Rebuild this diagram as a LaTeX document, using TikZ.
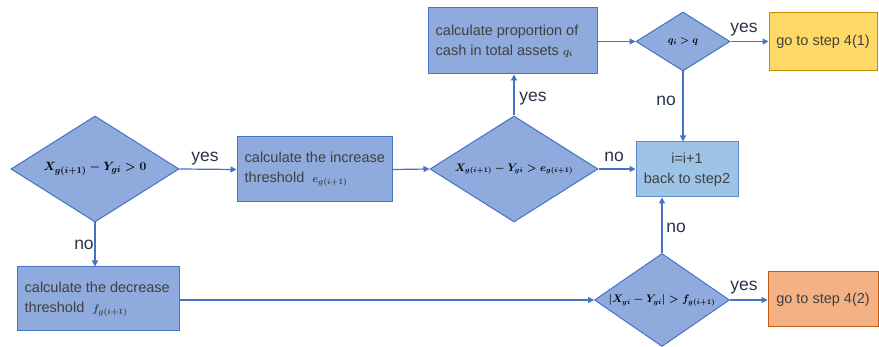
\documentclass[tikz,border=0pt]{standalone}
\usepackage[no-math]{fontspec}
\setmainfont{Liberation Sans}
\usetikzlibrary{shapes.geometric,arrows.meta}
\definecolor{bfill}{HTML}{8FAADC}
\definecolor{bline}{HTML}{4472C4}
\definecolor{lfill}{HTML}{9DC3E6}
\definecolor{lline}{HTML}{5B8BC9}
\definecolor{yfill}{HTML}{FFD966}
\definecolor{yline}{HTML}{BF9000}
\definecolor{ofill}{HTML}{F4B183}
\definecolor{oline}{HTML}{C55A11}
\definecolor{txt}{HTML}{404040}
\definecolor{labc}{HTML}{2B3447}
\begin{document}
\begin{tikzpicture}[x=1pt,y=-1pt,
  box/.style={draw=bline, fill=bfill, line width=1pt, inner sep=0pt, text=txt},
  dia/.style={diamond, draw=bline, fill=bfill, line width=1pt, inner sep=0pt},
  btext/.style={text=txt, font=\fontsize{14.5}{20}\selectfont, align=left, inner sep=0pt},
  mtext/.style={text=black, inner sep=0pt},
  arr/.style={draw=bline, line width=1.2pt, -{Triangle[width=6pt,length=6pt]}},
  lab/.style={text=labc, font=\fontsize{17.5}{18}\selectfont, inner sep=0pt}]
\useasboundingbox[fill=white] (0,0) rectangle (879,347);
% nodes
\node[dia, minimum width=168, minimum height=106] (d1) at (95,169) {};
\node[mtext, font=\boldmath\fontsize{12.5}{15}\selectfont] (t1) at (d1) {$X_{g(i+1)}-Y_{gi}>0$};
\node[box, minimum width=155, minimum height=65] (inc) at (314.5,169.5) {};
\node[btext, anchor=west] (tinc) at ([xshift=8pt]inc.west) {calculate the increase\\threshold\ \ {\boldmath\fontsize{11}{12}\selectfont$e_{g(i+1)}$}};
\node[dia, minimum width=168, minimum height=106] (d2) at (514,169) {};
\node[mtext, font=\boldmath\fontsize{10.5}{13}\selectfont] (t2) at (d2) {$X_{g(i+1)}-Y_{gi}>e_{g(i+1)}$};
\node[box, minimum width=169, minimum height=66] (prop) at (512.5,41) {};
\node[btext, anchor=west] (tprop) at ([xshift=8pt]prop.west) {calculate proportion of\\cash in total assets {\boldmath\fontsize{11}{12}\selectfont$q_i$}};
\node[dia, minimum width=94, minimum height=59] (dq) at (683,41.5) {};
\node[mtext, font=\boldmath\fontsize{10}{11}\selectfont] (tq) at (dq) {$q_i>q$};
\node[draw=yline, fill=yfill, line width=1pt, minimum width=108, minimum height=58, inner sep=0pt, text=txt, font=\fontsize{14.5}{18}\selectfont] (yel) at (823,42) {go to step 4(1)};
\node[draw=lline, fill=lfill, line width=1pt, minimum width=102, minimum height=55, inner sep=0pt] (bi) at (687,169.5) {};
\node[btext, align=center] (tbi) at (bi) {i=i+1\\back to step2};
\node[box, minimum width=162, minimum height=64] (dec) at (98,299) {};
\node[btext, anchor=west] (tdec) at ([xshift=8pt]dec.west) {calculate the decrease\\threshold\ \ {\boldmath\fontsize{11}{12}\selectfont$f_{g(i+1)}$}};
\node[dia, minimum width=135, minimum height=93] (d3) at (662,300) {};
\node[mtext, font=\boldmath\fontsize{10.5}{13}\selectfont] (t3) at (d3) {$\left|X_{gi}-Y_{gi}\right|>f_{g(i+1)}$};
\node[draw=oline, fill=ofill, line width=1pt, minimum width=110, minimum height=55, inner sep=0pt, text=txt, font=\fontsize{14.5}{18}\selectfont] (org) at (823,299.5) {go to step 4(2)};
% connectors
\draw[arr] (d1.east) -- (inc.west);
\draw[arr] (d1.south) -- (d1.south |- dec.north);
\draw[arr] (inc.east) -- (d2.west);
\draw[arr] (d2.north) -- (d2.north |- prop.south);
\draw[arr] (prop.east |- dq.west) -- (dq.west);
\draw[arr] (dq.east) -- (dq.east -| yel.west);
\draw[arr] (dq.south) -- (dq.south |- bi.north);
\draw[arr] (d2.east) -- (d2.east -| bi.west);
\draw[arr] (dec.east |- d3.west) -- (d3.west);
\draw[arr] (d3.north) -- (d3.north |- bi.south);
\draw[arr] (d3.east) -- (d3.east -| org.west);
% labels
\node[lab] (l1) at (205,159) {yes};
\node[lab] (l2) at (84,245) {no};
\node[lab] (l3) at (533,99) {yes};
\node[lab] (l4) at (744,30) {yes};
\node[lab] (l5) at (666,101) {no};
\node[lab] (l6) at (614,157) {no};
\node[lab] (l7) at (676,228) {no};
\node[lab] (l8) at (744,288) {yes};
\end{tikzpicture}
\end{document}
